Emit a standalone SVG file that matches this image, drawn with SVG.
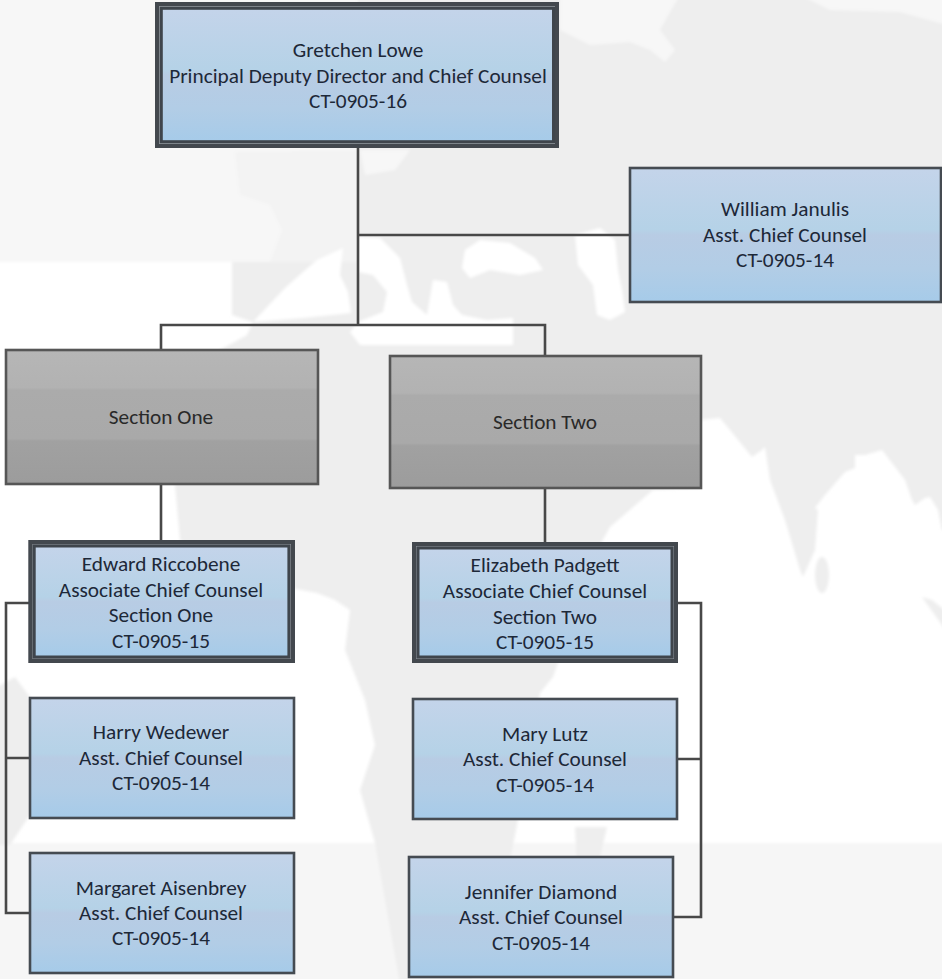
<svg xmlns="http://www.w3.org/2000/svg" width="942" height="979" viewBox="0 0 942 979">
<style>
.box{stroke:#454b52;stroke-width:2.600;fill:url(#blue)}
.grey{stroke:#565656;stroke-width:2.600;fill:url(#gr)}
.outer{stroke:#43484e;stroke-width:4;fill:#8f959b}
.inner{stroke:#3f454c;stroke-width:3;fill:url(#blue)}
.t{font-family:Carlito,Lato,"Open Sans",sans-serif;font-size:21.300px;fill:#1d2838;text-anchor:middle}
.g{fill:#292929}
.c{stroke:#484848;stroke-width:2.600;fill:none}
</style>
<defs>
<linearGradient id="blue" x1="0" y1="0" x2="0" y2="1">
<stop offset="0" stop-color="#c4d4ea"/><stop offset=".46" stop-color="#b5d2e7"/><stop offset=".5" stop-color="#b8cce4"/><stop offset=".75" stop-color="#b2cde6"/><stop offset="1" stop-color="#a6cbe9"/>
</linearGradient>
<linearGradient id="gr" x1="0" y1="0" x2="0" y2="1">
<stop offset="0" stop-color="#b6b6b6"/><stop offset=".28" stop-color="#b2b2b2"/><stop offset=".3" stop-color="#ababab"/><stop offset=".66" stop-color="#a9a9a9"/><stop offset=".68" stop-color="#a1a1a1"/><stop offset="1" stop-color="#9c9c9c"/>
</linearGradient>
<filter id="soft" x="0" y="0" width="100%" height="100%"><feGaussianBlur stdDeviation="1.500"/></filter>
</defs>
<rect id="page" width="942" height="979" fill="#fff"/>
<g id="map" filter="url(#soft)">
<rect x="-5" y="-5" width="952" height="267" fill="#f7f7f7"/>
<rect x="-5" y="843" width="952" height="146" fill="#f6f6f6"/>
<path fill="#f3f3f3" d="M235,152L358,150V262H232L270,262L282,230L270,205L240,195Z"/>
<path fill="#eee" d="M358,-5H947V530H942L938,510L930,497L925,498L915,505L912,500L905,480L882,450L865,455L855,455L855,468L845,472L825,495L815,508L818,510L815,550L803,577L800,570L785,520L770,480L765,447L762,450L752,457L730,430L720,418L700,420L700,488L653,490L610,527L600,545L553,677L540,693L517,825L510,860L470,984H400L385,900L375,843L360,790L375,745L365,700L345,650L350,610L335,600L317,593L250,580L180,540L175,485L220,350L247,335L253,322L232,315V262H358Z"/>
<path fill="#eee" d="M-5,688L15,677L30,697V815L10,845H-5Z"/>
<ellipse cx="822" cy="575" rx="7" ry="18" fill="#eee"/>
<path fill="#eee" d="M922,597L932,600L947,612V632Z"/>
<path fill="#eee" d="M575,827H607L600,857L578,890Z"/>
<g fill="#fff">
<path d="M285,288L303,272L317,260L343,248L340,275L348,292L351,313L303,318L253,322Z"/>
<path d="M358,237L380,238L400,258L407,285L412,302L427,315L433,280L447,282L453,305L462,315L487,320L513,318V345L360,345L350,332L358,322L383,312L387,292L373,275L358,272Z"/>
<path d="M465,250L480,240L510,243L535,258L543,270L520,275L490,270L470,278L462,268Z"/>
<path d="M575,235L600,228L615,240L618,270L622,290L625,312L610,320L597,315L593,285L578,265Z"/>
<path d="M560,-5H680L670,12L660,30L675,50L665,62L650,50L630,42L590,45L560,30Z" fill="#f7f7f7"/>
<path d="M800,-5H947V25L900,12L830,10Z" fill="#f7f7f7"/>
<path d="M360,150H410L395,170L365,175Z" fill="#f7f7f7"/>
</g>
</g>
<g id="connectors" class="c">
<path class="c" d="M358,148V325M358,235H629M161,350V325H545V356M161,484V541M545,488V542"/>
<path class="c" d="M29,603H6V913H30M6,758H30M678,603H701V917H673M677,759H701"/>
</g>
<g id="gretchen-lowe">
<rect class="outer" x="157" y="4" width="400" height="142"/><rect class="inner" x="161.300" y="8.300" width="392.200" height="133.400"/>
<text class="t" x="358" y="57">Gretchen Lowe</text><text class="t" x="358" y="83">Principal Deputy Director and Chief Counsel</text><text class="t" x="358" y="108">CT-0905-16</text>
</g>
<g id="william-janulis">
<rect class="box" x="630" y="168" width="311" height="134"/>
<text class="t" x="785" y="216">William Janulis</text><text class="t" x="785" y="242">Asst. Chief Counsel</text><text class="t" x="785" y="267">CT-0905-14</text>
</g>
<g id="section-one">
<rect class="grey" x="6" y="350" width="312" height="134"/><text class="t g" x="161" y="424">Section One</text>
</g>
<g id="section-two">
<rect class="grey" x="390" y="356" width="311" height="132"/><text class="t g" x="545" y="429">Section Two</text>
</g>
<g id="edward-riccobene">
<rect class="outer" x="30.300" y="542" width="262.700" height="119"/><rect class="inner" x="34.200" y="546" width="254.700" height="111"/>
<text class="t" x="161" y="571">Edward Riccobene</text><text class="t" x="161" y="597">Associate Chief Counsel</text><text class="t" x="161" y="622">Section One</text><text class="t" x="161" y="648">CT-0905-15</text>
</g>
<g id="elizabeth-padgett">
<rect class="outer" x="414" y="544" width="262" height="117"/><rect class="inner" x="418" y="548" width="254" height="109"/>
<text class="t" x="545" y="572">Elizabeth Padgett</text><text class="t" x="545" y="598">Associate Chief Counsel</text><text class="t" x="545" y="624">Section Two</text><text class="t" x="545" y="649">CT-0905-15</text>
</g>
<g id="harry-wedewer">
<rect class="box" x="30" y="698" width="264" height="120"/>
<text class="t" x="161" y="739">Harry Wedewer</text><text class="t" x="161" y="765">Asst. Chief Counsel</text><text class="t" x="161" y="790">CT-0905-14</text>
</g>
<g id="margaret-aisenbrey">
<rect class="box" x="30" y="853" width="264" height="120"/>
<text class="t" x="161" y="895">Margaret Aisenbrey</text><text class="t" x="161" y="920">Asst. Chief Counsel</text><text class="t" x="161" y="945">CT-0905-14</text>
</g>
<g id="mary-lutz">
<rect class="box" x="413" y="699" width="264" height="120"/>
<text class="t" x="545" y="741">Mary Lutz</text><text class="t" x="545" y="766">Asst. Chief Counsel</text><text class="t" x="545" y="792">CT-0905-14</text>
</g>
<g id="jennifer-diamond">
<rect class="box" x="409" y="857" width="264" height="120"/>
<text class="t" x="541" y="899">Jennifer Diamond</text><text class="t" x="541" y="924">Asst. Chief Counsel</text><text class="t" x="541" y="950">CT-0905-14</text>
</g>
</svg>
